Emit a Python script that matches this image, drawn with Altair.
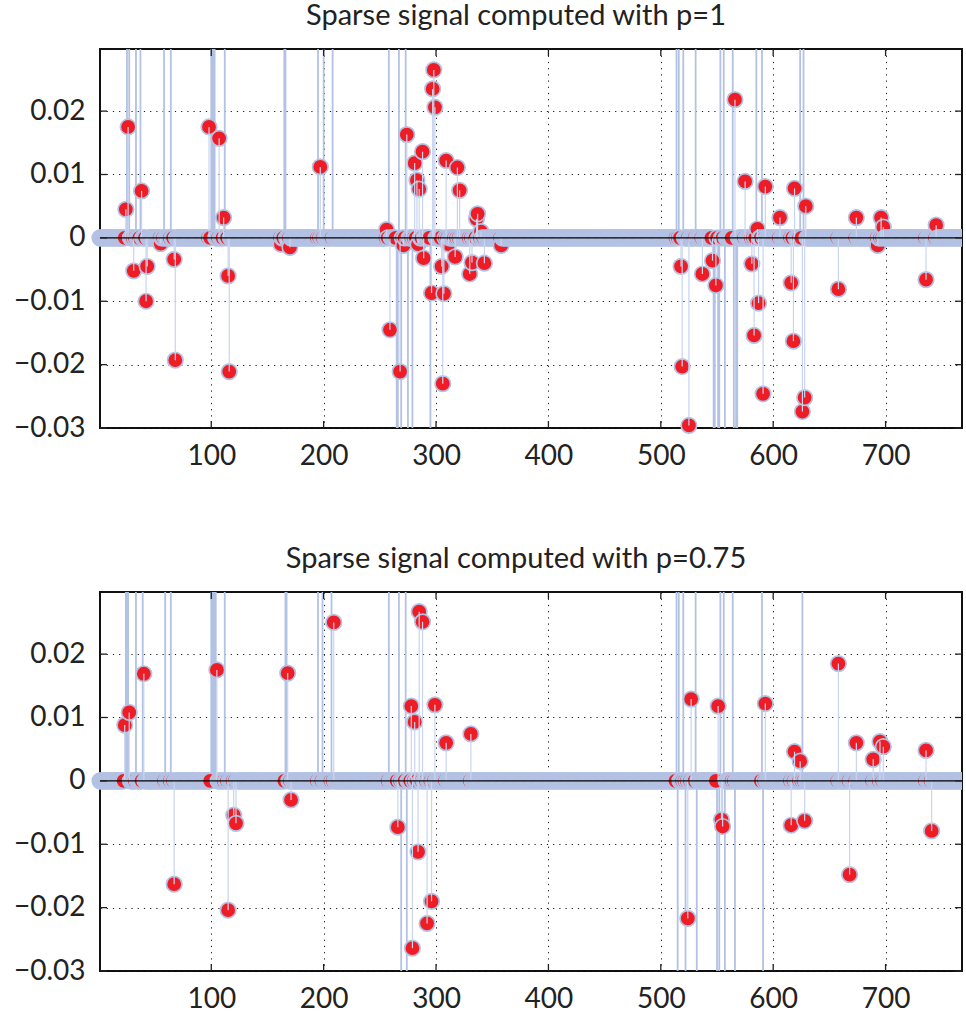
import altair as alt
import numpy as np
import pandas as pd

N = 768          # samples shown on the axis
N_TOTAL = 776    # the signal continues a little past the axis limit
LAV = "#B3C2E4"
LAV_IN = "#C9D4EF"
RED = "#EE1D25"
INK = "#222222"
FONT = "Lato"

x_ticks = [100, 200, 300, 400, 500, 600, 700]
y_ticks = [-0.03, -0.02, -0.01, 0, 0.01, 0.02]

# ---- panel 1: p = 1 ----
p1_idx = [24, 26, 31, 38, 42, 43, 55, 67, 68, 98, 107, 111, 115, 116, 162, 170, 197,
          256, 259, 268, 271, 274, 281, 283, 284, 285, 288, 289, 296, 297, 298, 299,
          305, 306, 307, 309, 311, 317, 319, 321, 330, 332, 336, 337, 340, 343, 358,
          518, 519, 525, 537, 546, 549, 566, 575, 581, 583, 586, 587, 591, 593, 606,
          616, 618, 619, 626, 628, 629, 658, 674, 693, 696, 698, 736, 745]
p1_val = [0.0045, 0.0175, -0.0052, 0.0074, -0.0100, -0.0045, -0.0009, -0.0034, -0.0193,
          0.0175, 0.0157, 0.0032, -0.0060, -0.0211, -0.0010, -0.0015, 0.0112,
          0.0013, -0.0145, -0.0211, -0.0012, 0.0163, 0.0118, 0.0091, -0.0010, 0.0077,
          0.0136, -0.0032, -0.0087, 0.0235, 0.0265, 0.0206,
          -0.0045, -0.0230, -0.0088, 0.0122, -0.0010, -0.0030, 0.0111, 0.0075, -0.0057,
          -0.0039, 0.0030, 0.0038, 0.0010, -0.0040, -0.0012,
          -0.0045, -0.0203, -0.0296, -0.0057, -0.0036, -0.0075, 0.0218, 0.0089, -0.0041,
          -0.0154, 0.0014, -0.0103, -0.0246, 0.0081, 0.0032,
          -0.0071, -0.0163, 0.0078, -0.0274, -0.0252, 0.0050, -0.0081, 0.0032, -0.0012,
          0.0032, 0.0017, -0.0066, 0.0020]
# large spikes, beyond the visible range (clipped at the frame)
p1_big_idx = [25, 27, 33, 37, 58, 64, 100, 101, 102, 103, 112, 165, 166, 195, 200, 208,
              258, 267, 273, 514, 516, 520, 531, 553, 556, 564, 585, 590, 624, 627,
              265, 266, 269, 275, 279, 295, 547, 548, 551, 552, 557, 565, 567, 568]
p1_big_val = [0.09, 0.08, 0.07, 0.06, 0.08, 0.07, 0.10, 0.09, 0.09, 0.08, 0.06, 0.09,
              0.08, 0.07, 0.07, 0.06, 0.06, 0.07, 0.06, 0.08, 0.07, 0.06, 0.05, 0.07,
              0.06, 0.08, 0.05, 0.06, 0.07, 0.06,
              -0.07, -0.08, -0.06, -0.07, -0.06, -0.05, -0.07, -0.06, -0.08, -0.07,
              -0.06, -0.09, -0.08, -0.07]

# ---- panel 2: p = 0.75 ----
p2_idx = [23, 27, 40, 67, 105, 115, 120, 122, 168, 171, 209, 266, 278, 279, 281, 284,
          285, 288, 292, 296, 299, 309, 331, 524, 527, 551, 554, 555, 593, 616, 619, 624,
          628, 658, 668, 674, 689, 695, 698, 736, 741]
p2_val = [0.0088, 0.0108, 0.0169, -0.0163, 0.0175, -0.0204, -0.0054, -0.0067, 0.0170,
          -0.0030, 0.0250, -0.0073, 0.0118, -0.0264, 0.0093, -0.0112, 0.0267, 0.0251,
          -0.0225, -0.0190, 0.0120, 0.0060, 0.0074, -0.0217, 0.0129, 0.0118, -0.0061,
          -0.0072, 0.0122, -0.0070, 0.0046, 0.0031, -0.0063, 0.0185, -0.0148, 0.0060,
          0.0034, 0.0062, 0.0054, 0.0048, -0.0079]
p2_big_idx = [24, 25, 26, 33, 39, 59, 64, 100, 101, 102, 103, 104, 112, 166, 167, 195,
              199, 207, 258, 267, 273, 514, 516, 520, 531, 553, 556, 564, 590, 626,
              269, 274, 515, 522, 532, 550, 552, 557, 566, 591]
p2_big_val = [0.09, 0.08, 0.07, 0.07, 0.06, 0.08, 0.07, 0.10, 0.09, 0.09, 0.08, 0.07,
              0.06, 0.09, 0.08, 0.07, 0.07, 0.06, 0.06, 0.07, 0.06, 0.08, 0.07, 0.06,
              0.05, 0.07, 0.06, 0.08, 0.06, 0.06,
              -0.07, -0.06, -0.07, -0.06, -0.05, -0.07, -0.08, -0.06, -0.09, -0.07]

W, H = 862, 379
YMIN, YMAX = -0.03, 0.0298
SPLIT = 760  # markers right of this are clipped at the frame


def panel(title, idx, val, big_idx, big_val):
    sig = np.zeros(N_TOTAL)
    sig[np.array(idx) - 1] = val
    sig[np.array(big_idx) - 1] = big_val
    df = pd.DataFrame({"n": np.arange(1, N_TOTAL + 1), "v": sig})
    inside = df[df["v"].abs() <= 0.0305]
    left_pts = inside[inside["n"] <= SPLIT]
    right_pts = inside[inside["n"] > SPLIT]
    stems_in = inside[inside["v"] != 0]
    stems_big = df[df["v"].abs() > 0.0305]
    shown = df[df["n"] <= N]
    base = pd.DataFrame({"a": [shown["n"].min()], "b": [shown["n"].max()]})

    xs = alt.Scale(domain=[1, N], nice=False, zero=False)
    ys = alt.Scale(domain=[YMIN, YMAX], nice=False, zero=False)

    xax = alt.Axis(values=x_ticks, grid=True, gridDash=[1.2, 5], gridColor="#000",
                   gridOpacity=0.9, gridWidth=1, ticks=False, domain=False,
                   labelFontSize=28, labelFont=FONT, labelColor=INK, labelPadding=14,
                   title=None)
    yax = alt.Axis(values=y_ticks, grid=True, gridDash=[1.2, 5], gridColor="#000",
                   gridOpacity=0.9, gridWidth=1, ticks=False, domain=False,
                   labelFontSize=28, labelFont=FONT, labelColor=INK, labelPadding=15,
                   minExtent=94, maxExtent=94,
                   labelExpr="datum.value == 0 ? '0' : replace(format(datum.value, '.2f'), '-', '\u2212')",
                   title=None)

    big = alt.Chart(stems_big).mark_rule(clip=True, color=LAV, strokeWidth=1.8).encode(
        x=alt.X("n:Q", scale=xs, axis=xax),
        y=alt.Y("v:Q", scale=ys, axis=yax),
        y2=alt.datum(0),
    )
    pstyle = dict(shape="circle", filled=True, fill=RED, stroke=LAV, strokeWidth=1.7,
                  size=240, opacity=1, fillOpacity=1, strokeOpacity=1)
    pts_a = alt.Chart(left_pts).mark_point(**pstyle).encode(x="n:Q", y="v:Q")
    pts_b = alt.Chart(right_pts).mark_point(clip=True, **pstyle).encode(x="n:Q", y="v:Q")
    stems = alt.Chart(stems_in).mark_rule(color=LAV_IN, strokeWidth=1.2).encode(
        x="n:Q", y="v:Q", y2=alt.datum(0)
    )
    baseline = alt.Chart(base).mark_rule(color="#000", strokeWidth=1.4).encode(
        x="a:Q", x2="b:Q", y=alt.datum(0)
    )
    xt = pd.DataFrame({"t": x_ticks})
    yt = pd.DataFrame({"t": y_ticks})
    tick_style = dict(color=INK, strokeWidth=1.3)
    xb = alt.Chart(xt).mark_rule(**tick_style).encode(x="t:Q", y=alt.value(H), y2=alt.value(H - 7))
    xtp = alt.Chart(xt).mark_rule(**tick_style).encode(x="t:Q", y=alt.value(0), y2=alt.value(7))
    yl = alt.Chart(yt).mark_rule(**tick_style).encode(y="t:Q", x=alt.value(0), x2=alt.value(7))
    yr = alt.Chart(yt).mark_rule(**tick_style).encode(y="t:Q", x=alt.value(W), x2=alt.value(W - 7))

    return alt.layer(big, pts_a, pts_b, stems, baseline, xb, xtp, yl, yr).properties(
        width=W, height=H,
        title=alt.TitleParams(title, fontSize=29, font=FONT, fontWeight="normal",
                              color=INK, offset=17, dx=-15, anchor="middle"),
    )


top = panel("Sparse signal computed with p=1", p1_idx, p1_val, p1_big_idx, p1_big_val)
bottom = panel("Sparse signal computed with p=0.75", p2_idx, p2_val, p2_big_idx, p2_big_val)

chart = alt.vconcat(top, bottom, spacing=73).configure(
    padding={"left": 5, "top": 1, "right": 0, "bottom": 0},
    background="white",
).configure_view(stroke="#111", strokeWidth=2)

chart.save("out.html", embed_options={"renderer": "svg", "actions": False})
